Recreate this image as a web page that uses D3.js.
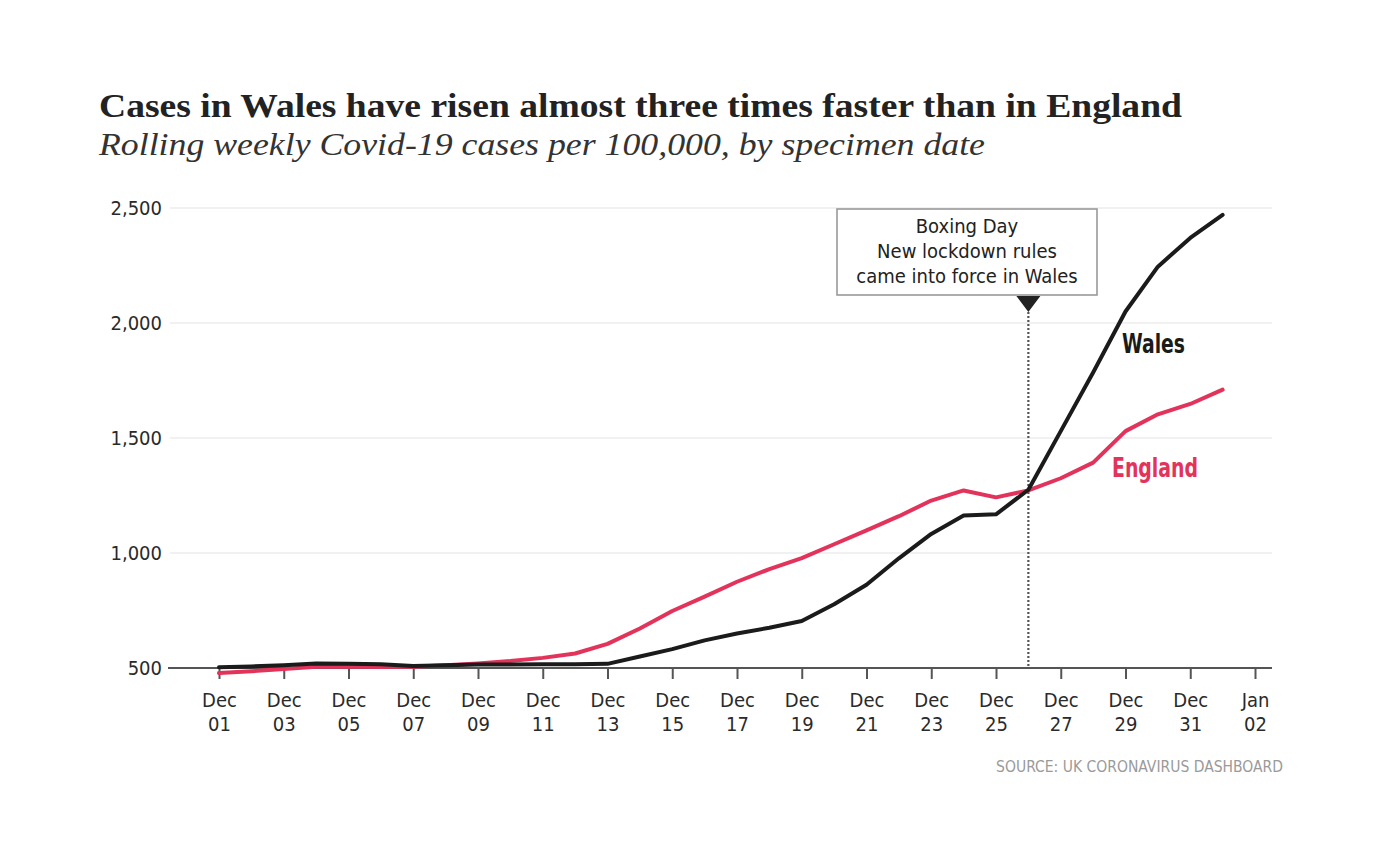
<!DOCTYPE html>
<html>
<head>
<meta charset="utf-8">
<script src="https://cdn.jsdelivr.net/npm/d3@7"></script>
<style>
  html, body { margin: 0; padding: 0; background: #ffffff; }
  svg { display: block; }
  .narrow { font-family: "Liberation Sans Narrow", "DejaVu Sans Condensed", "Arial Narrow", sans-serif; }
</style>
</head>
<body>
<svg id="chart" width="1380" height="860"></svg>
<script>
// ---- data ----
const dates = [
  "2020-12-01","2020-12-02","2020-12-03","2020-12-04","2020-12-05","2020-12-06","2020-12-07","2020-12-08",
  "2020-12-09","2020-12-10","2020-12-11","2020-12-12","2020-12-13","2020-12-14","2020-12-15","2020-12-16",
  "2020-12-17","2020-12-18","2020-12-19","2020-12-20","2020-12-21","2020-12-22","2020-12-23","2020-12-24",
  "2020-12-25","2020-12-26","2020-12-27","2020-12-28","2020-12-29","2020-12-30","2020-12-31","2021-01-01"
];
const wales = [503, 507, 512, 520, 519, 516, 509, 512, 515, 515, 516, 516, 518,
               550, 582, 620, 650, 675, 704, 777, 862, 977, 1083, 1163, 1168, 1275,
               1530, 1785, 2050, 2245, 2370, 2470];
const england = [478, 486, 496, 505, 507, 504, 505, 512, 520, 530, 544, 563, 605,
                 672, 748, 810, 875, 930, 978, 1038, 1098, 1160, 1228, 1272, 1242, 1272,
                 1325, 1393, 1530, 1603, 1648, 1710];
const yTicks = [500, 1000, 1500, 2000, 2500];
const xTickDates = ["2020-12-01","2020-12-03","2020-12-05","2020-12-07","2020-12-09","2020-12-11",
  "2020-12-13","2020-12-15","2020-12-17","2020-12-19","2020-12-21","2020-12-23","2020-12-25",
  "2020-12-27","2020-12-29","2020-12-31","2021-01-02"];
const annotationDate = "2020-12-26";
const annotationLines = ["Boxing Day", "New lockdown rules", "came into force in Wales"];
const titleText = "Cases in Wales have risen almost three times faster than in England";
const subtitleText = "Rolling weekly Covid-19 cases per 100,000, by specimen date";
const sourceText = "SOURCE: UK CORONAVIRUS DASHBOARD";

// ---- setup ----
const parse = d3.utcParse("%Y-%m-%d");
const svg = d3.select("#chart");
const RED = "#e3335a", BLACK = "#1b1b1b";

const x = d3.scaleUtc()
  .domain([parse("2020-12-01"), parse("2021-01-02")])
  .range([219, 1255]);
const y = d3.scaleLinear().domain([500, 2500]).range([668, 208]);

// title & subtitle
svg.append("text")
  .attr("x", 99).attr("y", 117)
  .attr("font-family", "'Liberation Serif', 'DejaVu Serif', serif")
  .attr("font-weight", "bold").attr("font-size", 34)
  .attr("fill", "#222")
  .attr("textLength", 1083).attr("lengthAdjust", "spacingAndGlyphs")
  .text(titleText);
svg.append("text")
  .attr("x", 99).attr("y", 155)
  .attr("font-family", "'Liberation Serif', 'DejaVu Serif', serif")
  .attr("font-style", "italic").attr("font-size", 32)
  .attr("fill", "#333")
  .attr("textLength", 886).attr("lengthAdjust", "spacingAndGlyphs")
  .text(subtitleText);

// gridlines + y labels
const yAxis = d3.axisLeft(y).tickValues(yTicks).tickSize(0).tickPadding(8)
  .tickFormat(d3.format(","));
const gy = svg.append("g").attr("transform", "translate(170,0)").call(yAxis);
gy.select(".domain").remove();
gy.selectAll("text").attr("class", "narrow").attr("font-size", 20).attr("fill", "#2a2a2a");
svg.append("g").selectAll("line").data(yTicks.filter(d => d !== 500)).join("line")
  .attr("x1", 170).attr("x2", 1272)
  .attr("y1", d => y(d)).attr("y2", d => y(d))
  .attr("stroke", "#ececec").attr("stroke-width", 1.5);

// x axis
const xAxis = d3.axisBottom(x).tickValues(xTickDates.map(parse)).tickSize(11).tickPadding(6)
  .tickFormat(() => "");
const gx = svg.append("g").attr("transform", `translate(0,${y(500)})`).call(xAxis);
gx.select(".domain").remove();
gx.selectAll(".tick line").attr("stroke", "#555").attr("stroke-width", 2);
gx.selectAll(".tick text").remove();
gx.selectAll(".tick").each(function(d) {
  const t = d3.select(this).append("text")
    .attr("class", "narrow").attr("font-size", 20).attr("fill", "#2a2a2a")
    .attr("text-anchor", "middle");
  t.append("tspan").attr("x", 0).attr("y", 39).text(d3.utcFormat("%b")(d));
  t.append("tspan").attr("x", 0).attr("y", 63).text(d3.utcFormat("%d")(d));
});
svg.append("line")
  .attr("x1", 168).attr("x2", 1272).attr("y1", y(500)).attr("y2", y(500))
  .attr("stroke", "#555").attr("stroke-width", 2);

// annotation
const ax = x(parse(annotationDate));
svg.append("line")
  .attr("x1", ax).attr("x2", ax).attr("y1", 308).attr("y2", y(500))
  .attr("stroke", "#555").attr("stroke-width", 2.2).attr("stroke-dasharray", "2,2");
svg.append("rect")
  .attr("x", 837).attr("y", 209).attr("width", 260).attr("height", 86)
  .attr("fill", "#fff").attr("stroke", "#999").attr("stroke-width", 1.6);
svg.append("path")
  .attr("d", `M${ax - 12},296 L${ax + 12},296 L${ax},312 Z`)
  .attr("fill", "#222");
svg.append("text").attr("class", "narrow")
  .attr("text-anchor", "middle").attr("font-size", 20).attr("fill", "#222")
  .selectAll("tspan").data(annotationLines).join("tspan")
  .attr("x", 967).attr("y", (d, i) => 233 + i * 25).text(d => d);

// lines
const line = d3.line().x((d, i) => x(parse(dates[i]))).y(d => y(d));
svg.append("path").datum(england).attr("d", line)
  .attr("fill", "none").attr("stroke", RED).attr("stroke-width", 4)
  .attr("stroke-linejoin", "round").attr("stroke-linecap", "round");
svg.append("path").datum(wales).attr("d", line)
  .attr("fill", "none").attr("stroke", BLACK).attr("stroke-width", 4)
  .attr("stroke-linejoin", "round").attr("stroke-linecap", "round");

// series labels
svg.append("text").attr("class", "narrow")
  .attr("x", 1122).attr("y", 353).attr("font-size", 26).attr("font-weight", "bold")
  .attr("textLength", 63).attr("lengthAdjust", "spacingAndGlyphs")
  .attr("fill", "#1b1b1b").text("Wales");
svg.append("text").attr("class", "narrow")
  .attr("x", 1112).attr("y", 477).attr("font-size", 26).attr("font-weight", "bold")
  .attr("textLength", 86).attr("lengthAdjust", "spacingAndGlyphs")
  .attr("fill", RED).text("England");

// source
svg.append("text").attr("class", "narrow")
  .attr("x", 1283).attr("y", 772).attr("text-anchor", "end")
  .attr("font-size", 15.5).attr("fill", "#9a9a9a").text(sourceText);
</script>
</body>
</html>
